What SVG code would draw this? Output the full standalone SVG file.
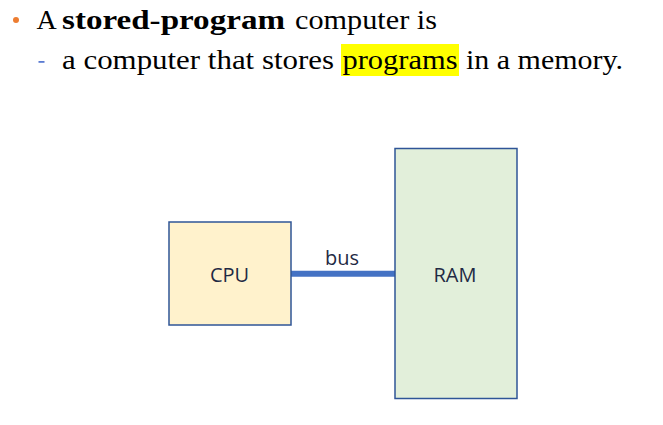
<svg xmlns="http://www.w3.org/2000/svg" width="663" height="425" viewBox="0 0 663 425">
  <style>
    .t { font-family: "Liberation Serif", "Times New Roman", serif; font-size: 28px; fill: #000; }
    .b { font-weight: bold; }
    .lbl { font-family: "Open Sans", "Noto Sans", sans-serif; font-size: 20px; fill: #1F2A44; text-anchor: middle; }
    .box { stroke: #2F5597; stroke-width: 1.5; }
  </style>
  <rect width="663" height="425" fill="#FFFFFF"/>
  <g id="title">
    <circle cx="16" cy="20" r="3" fill="#ED7D31"/>
    <text class="t" x="36.5" y="28.5">A</text>
    <text class="t b" x="62" y="28.5" textLength="223" lengthAdjust="spacingAndGlyphs">stored-program</text>
    <text class="t" x="295" y="28.5" textLength="142" lengthAdjust="spacingAndGlyphs">computer is</text>
    <rect x="38.5" y="61" width="6" height="1.8" fill="#5A7BD2"/>
    <text class="t" x="62" y="68.5" textLength="272" lengthAdjust="spacingAndGlyphs">a computer that stores</text>
    <rect x="341" y="44" width="118" height="32" fill="#FFFF00"/>
    <text class="t" x="342.5" y="68.5" textLength="115" lengthAdjust="spacingAndGlyphs">programs</text>
    <text class="t" x="466" y="68.5" textLength="157" lengthAdjust="spacingAndGlyphs">in a memory.</text>
  </g>
  <g id="connectors">
    <line x1="291" y1="273.8" x2="395" y2="273.8" stroke="#4472C4" stroke-width="6"/>
    <text class="lbl" x="342" y="265">bus</text>
  </g>
  <g id="cpu">
    <rect class="box" x="169" y="222" width="122" height="103" fill="#FFF2CC"/>
    <text class="lbl" x="229.5" y="281.7">CPU</text>
  </g>
  <g id="ram">
    <rect class="box" x="395" y="148.5" width="122" height="250" fill="#E2EFDA"/>
    <text class="lbl" x="455" y="281.7">RAM</text>
  </g>
</svg>
